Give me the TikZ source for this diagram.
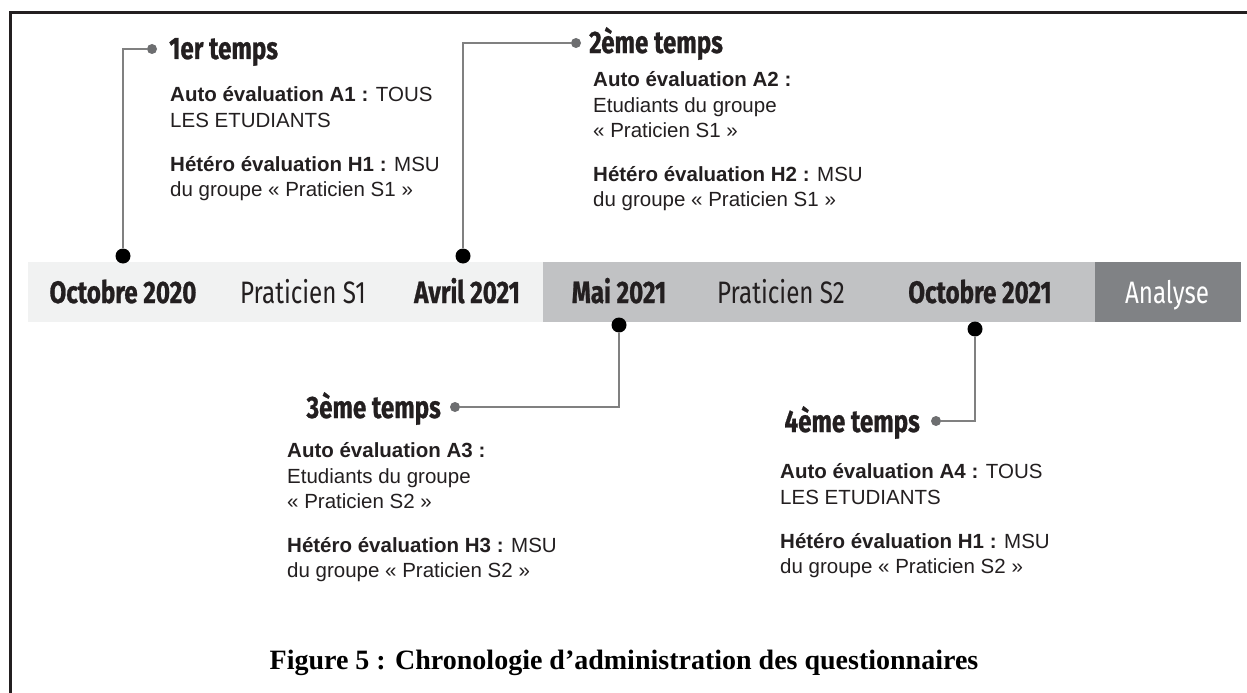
\documentclass[tikz,border=0pt]{standalone}
\usepackage{fontspec}
\setmainfont{Liberation Sans}
\newfontfamily\headfont[FakeStretch=0.78,BoldFeatures={FakeBold=0.8}]{Fira Sans}
\newfontfamily\capfont{Liberation Serif}
\definecolor{ink}{HTML}{231F20}
\definecolor{barlight}{HTML}{F1F2F2}
\definecolor{barmid}{HTML}{C1C2C4}
\definecolor{bardark}{HTML}{808285}
\definecolor{connc}{HTML}{808080}
\definecolor{smalldot}{HTML}{6D6E70}
\newcommand{\firstline}{\rule{0pt}{22pt}}
\begin{document}
\begin{tikzpicture}[x=1pt,y=-1pt,
  seg/.style={draw=none,inner sep=0,minimum height=60,anchor=north west},
  datelabel/.style={font=\headfont\bfseries\fontsize{31}{34}\selectfont,text=ink,inner sep=0,anchor=base},
  phaselabel/.style={font=\headfont\fontsize{31}{34}\selectfont,text=ink,inner sep=0,anchor=base},
  heading/.style={font=\headfont\bfseries\fontsize{31}{34}\selectfont,text=ink,inner sep=0},
  bodytext/.style={font=\fontsize{20.5}{25.5}\selectfont,text=ink,align=left,inner sep=0,anchor=north west},
  bigdot/.style={circle,fill=black,inner sep=0,minimum size=15},
  smdot/.style={circle,fill=smalldot,inner sep=0,minimum size=10},
  conn/.style={draw=connc,line width=1.8}]
\useasboundingbox (0,0) rectangle (1247,693);
\fill[white] (0,0) rectangle (1247,693);
% frame
\draw[line width=3,ink] (10,693) -- (10,13) -- (1247,13);
% bar
\node[seg,fill=barlight,minimum width=516] (seg1) at (28,262) {};
\node[seg,fill=barmid,minimum width=552] (seg2) at (543,262) {};
\node[seg,fill=bardark,minimum width=146] (seg3) at (1095,262) {};
\node[datelabel] (oct20) at (123,303) {Octobre 2020};
\node[phaselabel] (ps1) at (303,303) {Praticien S1};
\node[datelabel] (avr21) at (467,303) {Avril 2021};
\node[datelabel] (mai21) at (619,303) {Mai 2021};
\node[phaselabel] (ps2) at (781,303) {Praticien S2};
\node[datelabel] (oct21) at (980,303) {Octobre 2021};
\node[phaselabel,text=white] (ana) at (1167,303) {Analyse};
% dots
\node[bigdot] (d1) at (123,256) {};
\node[bigdot] (d2) at (463,256) {};
\node[bigdot] (d3) at (619,325) {};
\node[bigdot] (d4) at (975,329) {};
\node[smdot] (s1) at (152,49) {};
\node[smdot] (s2) at (576,43) {};
\node[smdot] (s3) at (455,407) {};
\node[smdot] (s4) at (936,421) {};
% connectors
\draw[conn] (d1) |- (s1);
\draw[conn] (d2) |- (s2);
\draw[conn] (d3) |- (s3);
\draw[conn] (d4) |- (s4);
% headings
\node[heading,anchor=base west] (h1) at (169,59) {1er temps};
\node[heading,anchor=base west] (h2) at (589,53) {2ème temps};
\node[heading,anchor=base east] (h3) at (441,418) {3ème temps};
\node[heading,anchor=base east] (h4) at (920,432) {4ème temps};
% text blocks
\node[bodytext] (b1a) at (170,79.5) {\firstline\textbf{Auto évaluation A1 :} TOUS\\LES ETUDIANTS};
\node[bodytext] (b1b) at (170,149) {\firstline\textbf{Hétéro évaluation H1 :} MSU\\du groupe « Praticien S1 »};
\node[bodytext] (b2a) at (593,64.5) {\firstline\textbf{Auto évaluation A2 :}\\Etudiants du groupe\\« Praticien S1 »};
\node[bodytext] (b2b) at (593,159) {\firstline\textbf{Hétéro évaluation H2 :} MSU\\du groupe « Praticien S1 »};
\node[bodytext] (b3a) at (287,435.5) {\firstline\textbf{Auto évaluation A3 :}\\Etudiants du groupe\\« Praticien S2 »};
\node[bodytext] (b3b) at (287,530) {\firstline\textbf{Hétéro évaluation H3 :} MSU\\du groupe « Praticien S2 »};
\node[bodytext] (b4a) at (780,456.5) {\firstline\textbf{Auto évaluation A4 :} TOUS\\LES ETUDIANTS};
\node[bodytext] (b4b) at (780,526) {\firstline\textbf{Hétéro évaluation H1 :} MSU\\du groupe « Praticien S2 »};
% caption
\node[font=\capfont\bfseries\fontsize{28}{31}\selectfont,text=black,inner sep=0] (cap) at (624,663) {Figure 5 : Chronologie d’administration des questionnaires};
\end{tikzpicture}
\end{document}
